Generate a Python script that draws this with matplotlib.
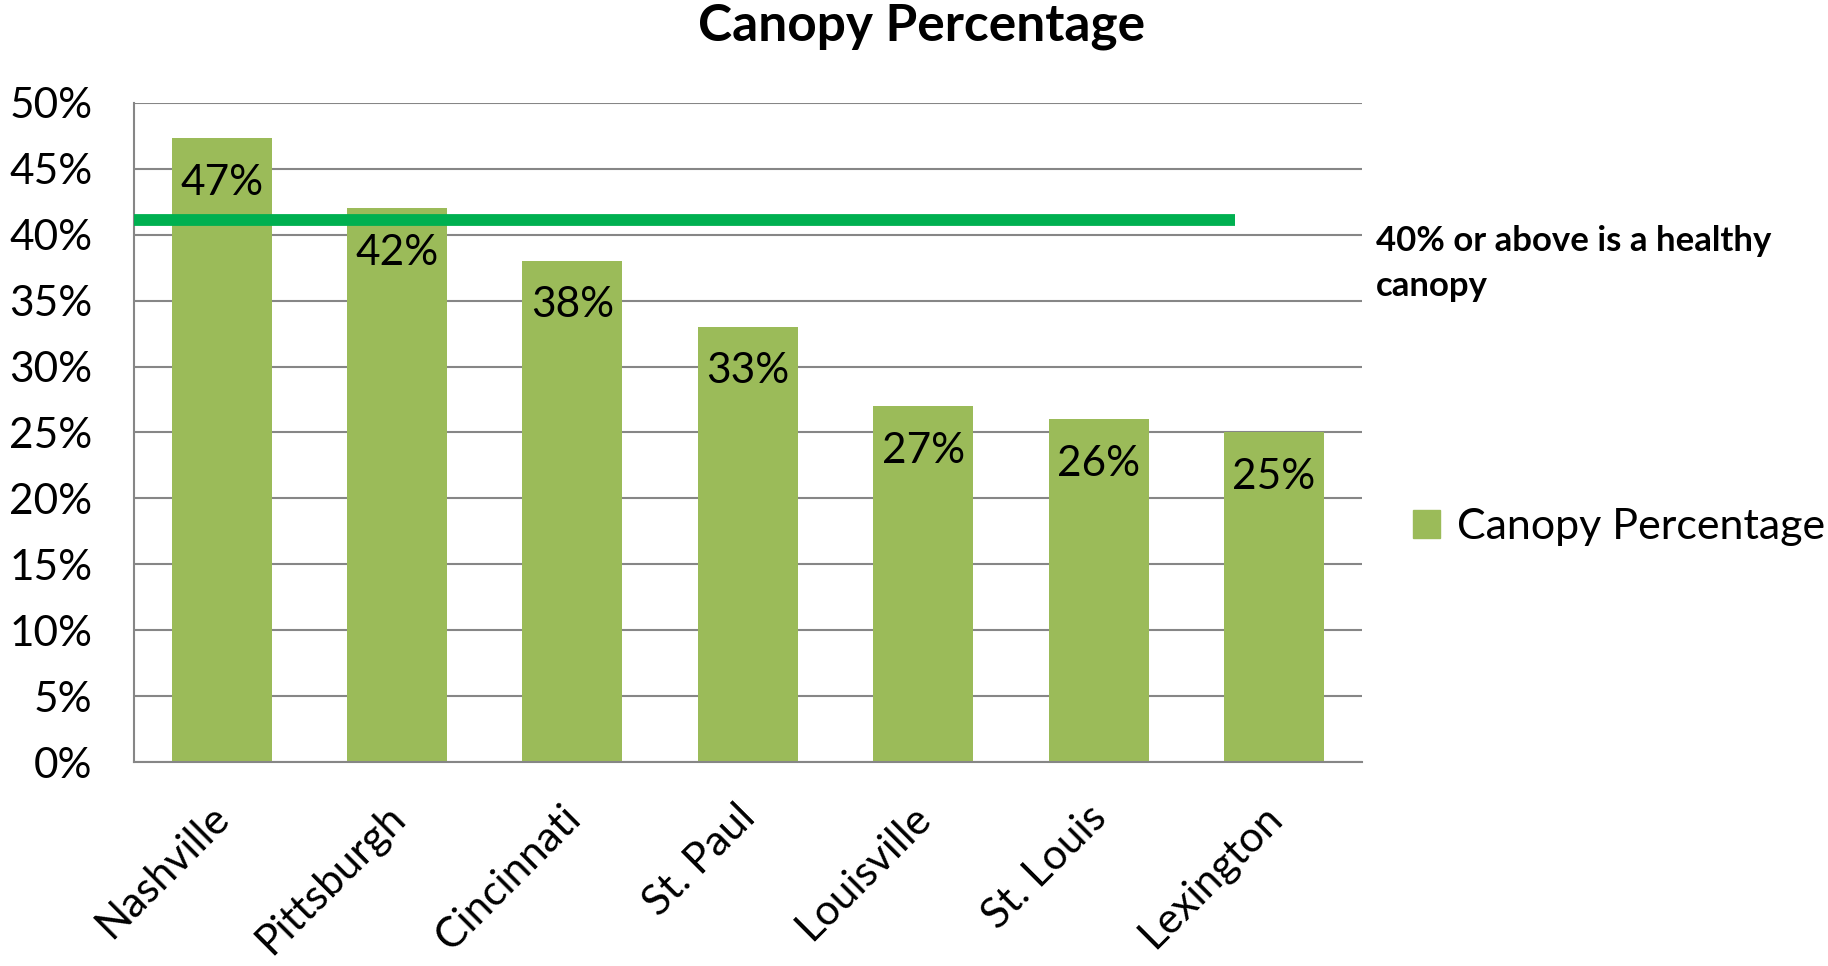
import matplotlib
matplotlib.use("Agg")
import matplotlib.pyplot as plt
import matplotlib.transforms as mtransforms
from matplotlib.ticker import FuncFormatter, MultipleLocator
from matplotlib.patches import Patch

# chart data
cities = ["Nashville", "Pittsburgh", "Cincinnati", "St. Paul", "Louisville", "St. Louis", "Lexington"]
canopy_pct = [47.3, 42, 38, 33, 27, 26, 25]
value_labels = ["47%", "42%", "38%", "33%", "27%", "26%", "25%"]
healthy_level = 41.1
healthy_note = "40% or above is a healthy\ncanopy"

BAR_COLOR = "#9BBB59"
LINE_COLOR = "#00B050"
GRID_COLOR = "#868686"

plt.rcParams["font.family"] = ["Lato", "DejaVu Sans"]

fig = plt.figure(figsize=(18.28, 9.66), dpi=100)
ax = fig.add_axes([0.0733, 0.2108, 0.6716, 0.683])

x = list(range(len(cities)))
bars = ax.bar(x, canopy_pct, width=0.57, color=BAR_COLOR, zorder=2)

for xi, v, lab in zip(x, canopy_pct, value_labels):
    ax.annotate(lab, (xi, v), xytext=(0, -32), textcoords="offset points",
                ha="center", va="center", fontsize=30.5, color="black", zorder=4)

# healthy canopy line
ax.plot([-0.5, 5.78], [healthy_level, healthy_level], color=LINE_COLOR,
        linewidth=8.5, solid_capstyle="butt", zorder=3)

ax.set_xlim(-0.5, len(cities) - 0.5)
ax.set_ylim(0, 50)
ax.yaxis.set_major_locator(MultipleLocator(5))
ax.yaxis.set_major_formatter(FuncFormatter(lambda v, p: f"{v:.0f}%"))
ax.grid(axis="y", color=GRID_COLOR, linewidth=1.5, zorder=0)
ax.set_axisbelow(True)

for side in ["top", "right"]:
    ax.spines[side].set_visible(False)
for side in ["left", "bottom"]:
    ax.spines[side].set_color(GRID_COLOR)
    ax.spines[side].set_linewidth(1.5)

ax.tick_params(axis="both", length=0, labelsize=30.5)
ax.tick_params(axis="y", pad=30)
ax.tick_params(axis="x", pad=20)
ax.set_xticks(x)
ax.set_xticklabels(cities, rotation=45, ha="right", rotation_mode="anchor")

# nudge the slanted city names a little down-left
shift = mtransforms.ScaledTranslation(-0.12, -0.08, fig.dpi_scale_trans)
for lbl in ax.get_xticklabels():
    lbl.set_transform(lbl.get_transform() + shift)

fig.text(0.504, 0.997, "Canopy Percentage", ha="center", va="top",
         fontsize=37, fontweight="bold")

fig.text(0.7526, 0.727, healthy_note, ha="left", va="center",
         fontsize=25, fontweight="bold", linespacing=1.5)

handle = Patch(color=BAR_COLOR, label="Canopy Percentage")
fig.legend(handles=[handle], loc="center left", bbox_to_anchor=(0.773, 0.4545),
           frameon=False, fontsize=31, handlelength=0.63, handleheight=0.63,
           handletextpad=0.4, borderpad=0, borderaxespad=0)

fig.savefig("out.png", dpi=100)
